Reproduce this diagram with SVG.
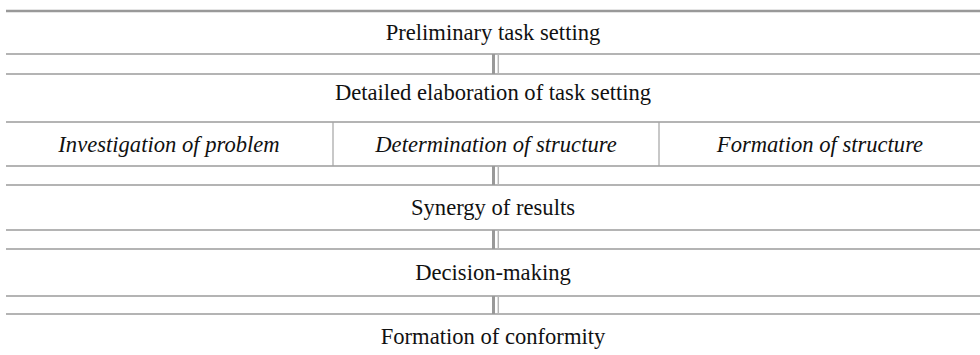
<svg xmlns="http://www.w3.org/2000/svg" width="980" height="355" viewBox="0 0 980 355">
<style>
.bg{fill:#ffffff}
.hl{stroke:#9b9b9b;stroke-width:1.5;fill:none}
.top{stroke:#999999;stroke-width:2.5;fill:none}
.vs{stroke:#a3a3a3;stroke-width:1.2;fill:none}
.cd{stroke:#999999;stroke-width:3;fill:none}
.cl{stroke:#b5b5b5;stroke-width:1.5;fill:none}
text{font-family:"Liberation Serif","Times New Roman",serif;font-size:22.6px;fill:#111111;text-anchor:middle}
.it{font-style:italic}
</style>
<rect class="bg" x="0" y="0" width="980" height="355"/>
<g id="n1">
<line class="top" x1="6" y1="11" x2="980" y2="11"/>
<line class="hl" x1="6" y1="54" x2="980" y2="54"/>
<text x="493" y="40">Preliminary task setting</text>
</g>
<g id="n2">
<line class="hl" x1="6" y1="74" x2="980" y2="74"/>
<text x="493" y="100">Detailed elaboration of task setting</text>
</g>
<g id="n3">
<line class="hl" x1="6" y1="122" x2="980" y2="122"/>
<line class="hl" x1="6" y1="166" x2="980" y2="166"/>
<line class="vs" x1="333" y1="122" x2="333" y2="166"/>
<line class="vs" x1="659" y1="122" x2="659" y2="166"/>
<text class="it" x="169" y="152">Investigation of problem</text>
<text class="it" x="496" y="152">Determination of structure</text>
<text class="it" x="820" y="152">Formation of structure</text>
</g>
<g id="n4">
<line class="hl" x1="6" y1="185" x2="980" y2="185"/>
<line class="hl" x1="6" y1="230" x2="980" y2="230"/>
<text x="493" y="215">Synergy of results</text>
</g>
<g id="n5">
<line class="hl" x1="6" y1="249" x2="980" y2="249"/>
<line class="hl" x1="6" y1="296" x2="980" y2="296"/>
<text x="493" y="280">Decision-making</text>
</g>
<g id="n6">
<line class="hl" x1="6" y1="314" x2="980" y2="314"/>
<text x="493" y="344">Formation of conformity</text>
</g>
<g id="connectors">
<line class="cd" x1="493.5" y1="54" x2="493.5" y2="74"/>
<line class="cl" x1="498.3" y1="54" x2="498.3" y2="74"/>
<line class="cd" x1="493.5" y1="166" x2="493.5" y2="185"/>
<line class="cl" x1="498.3" y1="166" x2="498.3" y2="185"/>
<line class="cd" x1="493.5" y1="230" x2="493.5" y2="249"/>
<line class="cl" x1="498.3" y1="230" x2="498.3" y2="249"/>
<line class="cd" x1="493.5" y1="296" x2="493.5" y2="314"/>
<line class="cl" x1="498.3" y1="296" x2="498.3" y2="314"/>
</g>
</svg>
